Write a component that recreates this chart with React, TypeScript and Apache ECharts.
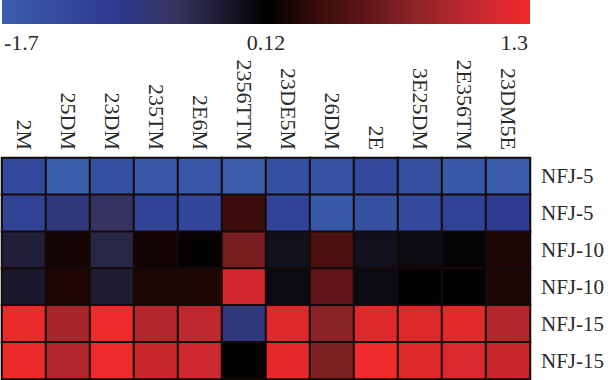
import React, { useEffect, useRef } from 'react';
import * as echarts from 'echarts';

const COLUMNS = ['2M', '25DM', '23DM', '235TM', '2E6M', '2356TTM', '23DE5M', '26DM', '2E', '3E25DM', '2E356TM', '23DM5E'];
const ROWS = ['NFJ-5', 'NFJ-5', 'NFJ-10', 'NFJ-10', 'NFJ-15', 'NFJ-15'];

const ROW_1 = [-1.26, -1.7, -1.41, -1.58, -1.58, -1.68, -1.41, -1.42, -1.24, -1.4, -1.57, -1.62];
const ROW_2 = [-1.08, -0.75, -0.5, -1.15, -1.22, 0.36, -1.12, -1.58, -1.4, -1.26, -1.1, -0.96];
const ROW_3 = [-0.24, 0.2, -0.32, 0.19, 0.12, 0.69, -0.06, 0.45, -0.06, 0.01, 0.08, 0.23];
const ROW_4 = [-0.14, 0.24, -0.2, 0.23, 0.24, 1.12, 0.01, 0.56, 0.01, 0.11, 0.11, 0.23];
const ROW_5 = [1.28, 0.92, 1.3, 0.97, 1.02, -0.75, 1.18, 0.78, 1.21, 1.2, 1.23, 0.97];
const ROW_6 = [1.29, 0.97, 1.3, 1.06, 1.09, 0.12, 1.25, 0.71, 1.3, 1.21, 1.17, 1.06];
const ROW_VALUES = [ROW_1, ROW_2, ROW_3, ROW_4, ROW_5, ROW_6];

const SCALE_MIN = -1.7;
const SCALE_MID = 0.12;
const SCALE_MAX = 1.3;
const SCALE_LABELS = ['-1.7', '0.12', '1.3'];

const GRADIENT: [number, string][] = [
  [0, '#3b5eab'],
  [0.21, '#2e3a8f'],
  [0.33, '#363360'],
  [0.42, '#1c1a2e'],
  [0.5, '#000000'],
  [0.6, '#3a0c0a'],
  [0.68, '#5c1416'],
  [0.78, '#8a2428'],
  [0.9, '#c8282e'],
  [1, '#ee2a2a'],
];

function hexToRgb(h: string) {
  const n = parseInt(h.slice(1), 16);
  return [(n >> 16) & 255, (n >> 8) & 255, n & 255];
}
function colorAt(f: number) {
  for (let i = 1; i < GRADIENT.length; i++) {
    const [f1, c1] = GRADIENT[i];
    const [f0, c0] = GRADIENT[i - 1];
    if (f <= f1 || i === GRADIENT.length - 1) {
      const t = Math.max(0, Math.min(1, (f - f0) / (f1 - f0)));
      const a = hexToRgb(c0);
      const b = hexToRgb(c1);
      const m = a.map((v, k) => Math.round(v + (b[k] - v) * t));
      return `rgb(${m[0]},${m[1]},${m[2]})`;
    }
  }
  return GRADIENT[GRADIENT.length - 1][1];
}
function valueToFrac(v: number) {
  return v <= SCALE_MID
    ? 0.5 * (v - SCALE_MIN) / (SCALE_MID - SCALE_MIN)
    : 0.5 + 0.5 * (v - SCALE_MID) / (SCALE_MAX - SCALE_MID);
}

const FONT = 'Liberation Serif';

export default function App() {
  const ref = useRef<HTMLDivElement>(null);
  useEffect(() => {
    if (!ref.current) return;
    const chart = echarts.init(ref.current, undefined, { renderer: 'svg' });
    const data: [number, number, number][] = [];
    ROW_VALUES.forEach((row, r) => row.forEach((v, c) => data.push([c, r, v])));
    const palette: string[] = [];
    const steps = 60;
    for (let k = 0; k <= steps; k++) {
      const v = SCALE_MIN + ((SCALE_MAX - SCALE_MIN) * k) / steps;
      palette.push(colorAt(valueToFrac(v)));
    }
    const barX = 2, barW = 528;
    chart.setOption({
      animation: false,
      backgroundColor: '#ffffff',
      grid: { left: 2, right: 78, top: 158, bottom: 1 },
      xAxis: {
        type: 'category',
        position: 'top',
        data: COLUMNS,
        axisLine: { show: false },
        axisTick: { show: false },
        splitLine: { show: false },
        axisLabel: { rotate: 90, margin: 8, fontSize: 22, color: '#2a2a2a', fontFamily: FONT, interval: 0 },
      },
      yAxis: {
        type: 'category',
        position: 'right',
        inverse: true,
        data: ROWS,
        axisLine: { show: false },
        axisTick: { show: false },
        splitLine: { show: false },
        axisLabel: { margin: 11, fontSize: 21, color: '#2a2a2a', fontFamily: FONT, interval: 0 },
      },
      visualMap: {
        show: false,
        type: 'continuous',
        min: SCALE_MIN,
        max: SCALE_MAX,
        dimension: 2,
        inRange: { color: palette },
      },
      series: [
        {
          type: 'heatmap',
          data,
          itemStyle: { borderColor: '#140a0a', borderWidth: 2 },
          emphasis: { disabled: true },
        },
      ],
      graphic: [
        {
          type: 'rect',
          shape: { x: barX, y: 0, width: barW, height: 24 },
          style: {
            fill: new echarts.graphic.LinearGradient(0, 0, 1, 0,
              GRADIENT.map(([offset, color]) => ({ offset, color }))),
          },
        },
        {
          type: 'text', x: 4, y: 42,
          style: { text: SCALE_LABELS[0], fontSize: 22, fontFamily: FONT, fill: '#2a2a2a', align: 'left', verticalAlign: 'middle' },
        },
        {
          type: 'text', x: barX + barW / 2, y: 42,
          style: { text: SCALE_LABELS[1], fontSize: 22, fontFamily: FONT, fill: '#2a2a2a', align: 'center', verticalAlign: 'middle' },
        },
        {
          type: 'text', x: barX + barW - 2, y: 42,
          style: { text: SCALE_LABELS[2], fontSize: 22, fontFamily: FONT, fill: '#2a2a2a', align: 'right', verticalAlign: 'middle' },
        },
      ],
    });
    return () => chart.dispose();
  }, []);
  return <div ref={ref} style={{ position: 'absolute', left: 0, top: 0, width: 608, height: 380 }} />;
}
